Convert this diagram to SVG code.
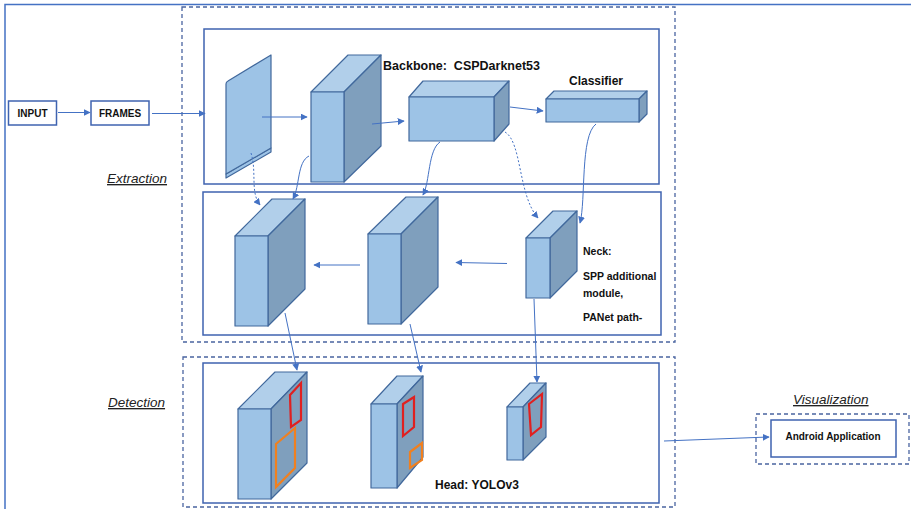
<svg xmlns="http://www.w3.org/2000/svg" width="911" height="509" viewBox="0 0 911 509">
<defs>
<marker id="ah" viewBox="0 0 10 10" refX="9" refY="5" markerWidth="7" markerHeight="7" markerUnits="userSpaceOnUse" orient="auto">
<path d="M0,0 L10,5 L0,10 z" fill="#4472c4"/>
</marker>
<style>
.frame{fill:none;stroke:#4472c4;stroke-width:1.5}
.dash{fill:none;stroke:#4a64a0;stroke-width:1.3;stroke-dasharray:4 3}
.box{fill:#fff;stroke:#3f63b0;stroke-width:1.5}
.front{fill:#9dc3e6;stroke:#41689c;stroke-width:1.2;stroke-linejoin:round}
.top{fill:#b1cfea;stroke:#41689c;stroke-width:1.2;stroke-linejoin:round}
.side{fill:#7f9fbd;stroke:#41689c;stroke-width:1.2;stroke-linejoin:round}
.red{fill:none;stroke:#e02020;stroke-width:2.2}
.orange{fill:none;stroke:#f08020;stroke-width:2.2}
.conn{fill:none;stroke:#4472c4;stroke-width:1;marker-end:url(#ah)}
.conn-d{fill:none;stroke:#4472c4;stroke-width:1;stroke-dasharray:2 2;marker-end:url(#ah)}
.lbl{font-family:"Liberation Sans",Arial,sans-serif;font-weight:bold;fill:#111;white-space:pre}
.sec{font-family:"Liberation Sans",Arial,sans-serif;font-style:italic;font-size:13.5px;fill:#222;text-decoration:underline}
</style>
</defs>
<rect width="911" height="509" fill="#fff"/>
<path class="frame" d="M5,509 V4.5 H911"/>

<g id="extraction-group">
<rect class="dash" x="182" y="7" width="493" height="335"/>
<text class="sec" x="107" y="183">Extraction</text>
</g>
<g id="detection-group">
<rect class="dash" x="183" y="357" width="492" height="150"/>
<text class="sec" x="108" y="407">Detection</text>
</g>
<g id="visualization-group">
<rect class="dash" x="756" y="414" width="153" height="50"/>
<text class="sec" x="793" y="404">Visualization</text>
</g>

<g id="backbone-panel"><rect class="box" x="204" y="29" width="455" height="155"/></g>
<g id="neck-panel"><rect class="box" x="203" y="192" width="458" height="143"/></g>
<g id="head-panel"><rect class="box" x="203" y="363" width="456" height="140"/></g>

<g id="input"><rect class="box" x="8.5" y="101" width="48" height="24"/><text class="lbl" x="32.5" y="117" font-size="10" text-anchor="middle">INPUT</text></g>
<g id="frames"><rect class="box" x="91" y="101" width="58" height="24"/><text class="lbl" x="120" y="117" font-size="10" text-anchor="middle">FRAMES</text></g>

<g id="frame-sheet">
<path class="front" d="M226,174 L271,148 L271,152 L226,178 Z"/>
<path class="front" d="M226,84 Q226,82 228,81 L271,55 L271,148 L226,174 Z"/>
</g>

<g id="backbone-cube1">
<path class="top" d="M311,92 L348,55 L381,55 L344,92 Z"/>
<path class="side" d="M344,92 L381,55 L381,146 L344,182 Z"/>
<rect class="front" x="311" y="92" width="33" height="90"/>
</g>

<g id="backbone-cspdarknet53">
<path class="top" d="M409,97 L423,81 L509,81 L494,97 Z"/>
<path class="side" d="M494,97 L509,81 L509,124 L494,141 Z"/>
<rect class="front" x="409" y="97" width="85" height="44"/>
<text class="lbl" x="383" y="70" font-size="12.5" xml:space="preserve">Backbone:  CSPDarknet53</text>
</g>

<g id="classifier">
<path class="top" d="M546,99 L554,91 L647,91 L639,99 Z"/>
<path class="side" d="M639,99 L647,91 L647,114 L639,122 Z"/>
<rect class="front" x="546" y="99" width="93" height="23"/>
<text class="lbl" x="596" y="85" font-size="12" text-anchor="middle">Classifier</text>
</g>

<g id="neck-cube-a">
<path class="top" d="M235,236 L272,199 L305,199 L268,236 Z"/>
<path class="side" d="M268,236 L305,199 L305,289 L268,326 Z"/>
<rect class="front" x="235" y="236" width="33" height="90"/>
</g>
<g id="neck-cube-b">
<path class="top" d="M368,234 L406,197 L438,197 L401,234 Z"/>
<path class="side" d="M401,234 L438,197 L438,287 L401,324 Z"/>
<rect class="front" x="368" y="234" width="33" height="90"/>
</g>
<g id="neck-cube-c">
<path class="top" d="M526,238 L553,211 L577,211 L550,238 Z"/>
<path class="side" d="M550,238 L577,211 L577,271 L550,298 Z"/>
<rect class="front" x="526" y="238" width="24" height="60"/>
</g>
<g id="neck-label">
<text class="lbl" font-size="10.5" x="583" y="255">Neck:</text>
<text class="lbl" font-size="10.5" x="583" y="280">SPP additional</text>
<text class="lbl" font-size="10.5" x="583" y="297">module,</text>
<text class="lbl" font-size="10.5" x="583" y="321">PANet path-</text>
</g>

<g id="head-cube-1">
<path class="top" d="M238,409 L275,372 L307,372 L271,409 Z"/>
<path class="side" d="M271,409 L307,372 L307,463 L271,499 Z"/>
<rect class="front" x="238" y="409" width="33" height="90"/>
<path class="red" d="M290,395 L301,383 L301,420 L291,427 Z"/>
<path class="orange" d="M276,444 L295,428 L295,468 L276,487 Z"/>
</g>
<g id="head-cube-2">
<path class="top" d="M371,404 L397,376 L423,376 L397,404 Z"/>
<path class="side" d="M397,404 L423,376 L423,457 L397,488 Z"/>
<rect class="front" x="371" y="404" width="26" height="84"/>
<path class="red" d="M403,404 L414,397 L414,427 L403,436 Z"/>
<path class="orange" d="M410,452 L422,443 L422,460 L410,468 Z"/>
</g>
<g id="head-cube-3">
<path class="top" d="M507,407 L530,383 L546,383 L523,407 Z"/>
<path class="side" d="M523,407 L546,383 L546,437 L523,460 Z"/>
<rect class="front" x="507" y="407" width="16" height="53"/>
<path class="red" d="M529,404 L542,394 L541,427 L531,435 Z"/>
</g>
<g id="head-label"><text class="lbl" font-size="12" x="435" y="489">Head: YOLOv3</text></g>

<g id="android-app">
<rect class="box" x="771" y="420" width="125" height="37"/>
<text class="lbl" font-size="10" x="833" y="440" text-anchor="middle">Android Application</text>
</g>

<g id="connectors">
<path class="conn" d="M58,112.5 H90"/>
<path class="conn" d="M152,113.5 H205"/>
<path class="conn" d="M262,117 H307"/>
<path class="conn" d="M372,124 L404,121"/>
<path class="conn" d="M510,107 L543,111"/>
<path class="conn-d" d="M251,153 C257,172 250,192 260,205"/>
<path class="conn" d="M309,156 C297,162 300,186 293,199"/>
<path class="conn" d="M440,142 C428,150 430,182 423,195"/>
<path class="conn-d" d="M505,132 C522,142 518,195 538,218"/>
<path class="conn" d="M596,124 C580,136 586,200 580,223"/>
<path class="conn" d="M360,265 H314"/>
<path class="conn" d="M507,263.5 L456,262.5"/>
<path class="conn" d="M285,313 L297,370"/>
<path class="conn" d="M410,324 L421,372"/>
<path class="conn" d="M534,299 L537,382"/>
<path class="conn" d="M664,441 L769,437"/>
</g>
</svg>
